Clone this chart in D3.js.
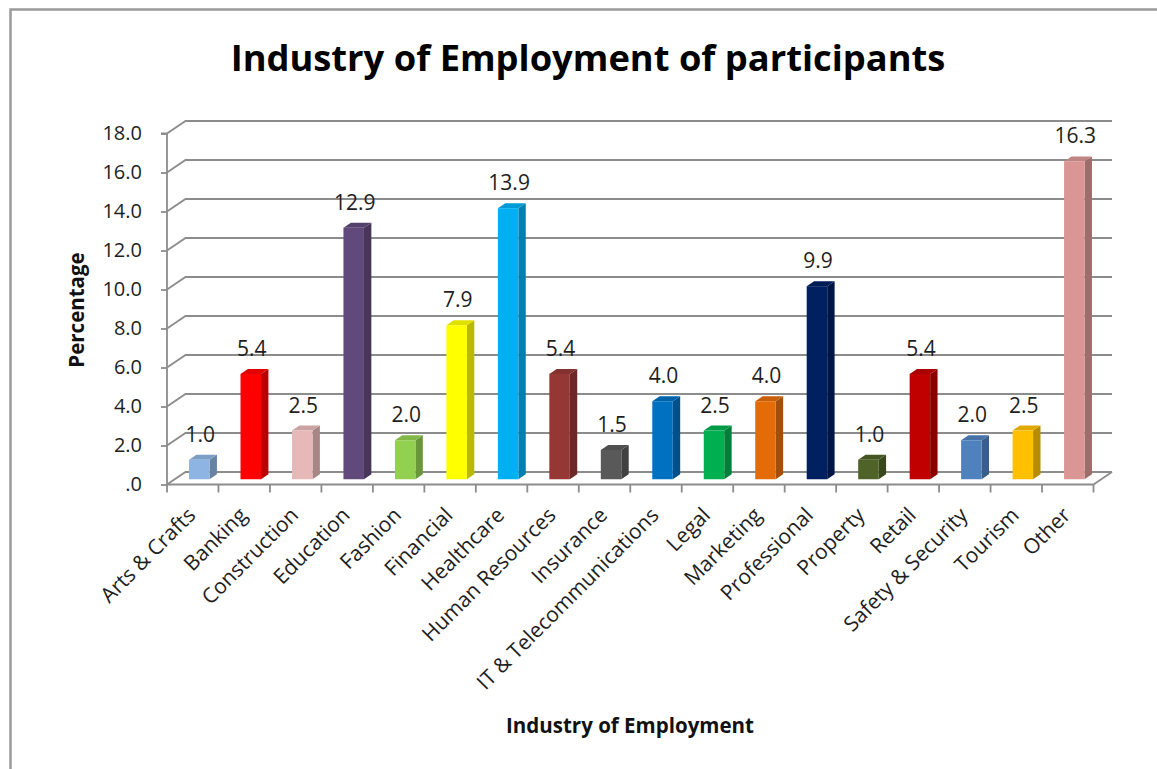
<!DOCTYPE html>
<html>
<head>
<meta charset="utf-8">
<script src="https://cdn.jsdelivr.net/npm/d3@7"></script>
<style>
  html, body { margin: 0; padding: 0; background: #fff; }
  svg { display: block; font-family: "Open Sans", Lato, sans-serif; }
</style>
</head>
<body>
<svg id="chart" width="1157" height="769"></svg>
<script>
const categories = ["Arts & Crafts", "Banking", "Construction", "Education", "Fashion", "Financial",
  "Healthcare", "Human Resources", "Insurance", "IT & Telecommunications", "Legal", "Marketing",
  "Professional", "Property", "Retail", "Safety & Security", "Tourism", "Other"];
const values = [1.0, 5.4, 2.5, 12.9, 2.0, 7.9, 13.9, 5.4, 1.5, 4.0, 2.5, 4.0, 9.9, 1.0, 5.4, 2.0, 2.5, 16.3];
const colors = ["#8DB4E2", "#FF0000", "#E6B9B8", "#604A7B", "#92D050", "#FFFF00",
  "#00B0F0", "#953735", "#595959", "#0070C0", "#00B050", "#E36C09",
  "#002060", "#4F6228", "#C00000", "#4F81BD", "#FFC000", "#D99694"];
const tickValues = [0, 2, 4, 6, 8, 10, 12, 14, 16, 18];
const tickLabels = [".0", "2.0", "4.0", "6.0", "8.0", "10.0", "12.0", "14.0", "16.0", "18.0"];
const title = "Industry of Employment of participants";
const xTitle = "Industry of Employment";
const yTitle = "Percentage";

const svg = d3.select("#chart");
const left = 167, right = 1093.5, floorY = 484.5, topY = 133.5;
const depthX = 18.5, depthY = -12.5;
const gridColor = "#8c8c8c";
const textColor = "#1e1e1e";

// outer chart border (only top and left visible)
svg.append("rect").attr("x", 10.5).attr("y", 9.5).attr("width", 1300).attr("height", 900)
  .attr("fill", "none").attr("stroke", "#9a9a9a").attr("stroke-width", 2.5);

const x = d3.scaleBand().domain(categories).range([left, right]).padding(0);
const y = d3.scaleLinear().domain([0, 18]).range([floorY, topY]);
const bw = x.bandwidth();

// back wall gridlines + left wall diagonals
const g = svg.append("g");
tickValues.forEach(v => {
  const yy = y(v);
  g.append("path")
    .attr("d", `M${left},${yy} L${left + depthX},${yy + depthY} L${right + depthX},${yy + depthY}`)
    .attr("fill", "none").attr("stroke", gridColor).attr("stroke-width", 1.8);
});
// floor right edge
g.append("path")
  .attr("d", `M${right},${floorY} L${right + depthX},${floorY + depthY}`)
  .attr("fill", "none").attr("stroke", gridColor).attr("stroke-width", 1.8);

// y axis
const yAxis = d3.axisLeft(y).tickValues(tickValues).tickFormat((d, i) => tickLabels[i])
  .tickSize(6).tickPadding(19);
const ya = svg.append("g").attr("transform", `translate(${left},0)`).call(yAxis);
ya.select(".domain").attr("stroke", gridColor).attr("stroke-width", 1.8)
  .attr("d", `M-6,${topY}H0V${floorY + 2}`);
ya.selectAll(".tick line").attr("stroke", gridColor).attr("stroke-width", 1.8);
ya.selectAll(".tick text").attr("font-size", 20).attr("fill", textColor)
  .attr("font-family", "'Open Sans', sans-serif");

// x axis (front edge of floor)
const xAxis = d3.axisBottom(x).tickSize(0).tickFormat("");
const xa = svg.append("g").attr("transform", `translate(0,${floorY})`).call(xAxis);
xa.select(".domain").attr("stroke", gridColor).attr("stroke-width", 1.8)
  .attr("d", `M${left},0H${right}`);
xa.selectAll(".tick").remove();
// category boundary ticks
const bounds = categories.map(c => x(c)).concat([right]);
xa.selectAll("line.bt").data(bounds).enter().append("line")
  .attr("x1", d => d).attr("x2", d => d).attr("y1", 0).attr("y2", 8)
  .attr("stroke", gridColor).attr("stroke-width", 1.8);

// category labels
svg.append("g").selectAll("text").data(categories).enter().append("text")
  .attr("transform", d => `translate(${x(d) + bw / 2 + 4},${floorY + 32}) rotate(-45)`)
  .attr("text-anchor", "end").attr("font-size", 21).attr("fill", textColor)
  .text(d => d);

// bars (3D columns)
const fx = 0.3 * depthX, fy = 0.3 * depthY;   // front face depth offset
const bdx = 0.4 * depthX, bdy = 0.4 * depthY; // column depth
const w = 20.5;
const bars = svg.append("g");
categories.forEach((c, i) => {
  const v = values[i];
  const x0 = x(c) + bw / 2 + fx - w / 2 + 1;
  const x1 = x0 + w;
  const yb = y(0) + fy - 1.5;
  const yt = y(v) + fy - 1.5;
  const col = d3.color(colors[i]);
  // side face
  bars.append("path")
    .attr("d", `M${x1},${yb} L${x1 + bdx},${yb + bdy} L${x1 + bdx},${yt + bdy} L${x1},${yt} Z`)
    .attr("fill", col.darker(0.9));
  // top face
  bars.append("path")
    .attr("d", `M${x0},${yt} L${x0 + bdx},${yt + bdy} L${x1 + bdx},${yt + bdy} L${x1},${yt} Z`)
    .attr("fill", col.darker(0.35));
  // front face
  bars.append("rect").attr("x", x0).attr("y", yt).attr("width", w).attr("height", yb - yt)
    .attr("fill", col);
  // value label
  bars.append("text")
    .attr("x", x0 + w / 2 + 1).attr("y", yt + bdy - 13)
    .attr("text-anchor", "middle").attr("font-size", 21).attr("fill", textColor)
    .text(v.toFixed(1));
});

// titles
svg.append("text").attr("x", 588).attr("y", 71).attr("text-anchor", "middle")
  .attr("font-size", 36.3).attr("font-weight", "bold").attr("fill", "#000").text(title);
svg.append("text").attr("x", 630).attr("y", 733).attr("text-anchor", "middle")
  .attr("font-size", 20.5).attr("font-weight", "bold").attr("fill", "#111").text(xTitle);
svg.append("text").attr("transform", "translate(84,310) rotate(-90)").attr("text-anchor", "middle")
  .attr("font-size", 20.5).attr("font-weight", "bold").attr("fill", "#111").text(yTitle);
</script>
</body>
</html>
